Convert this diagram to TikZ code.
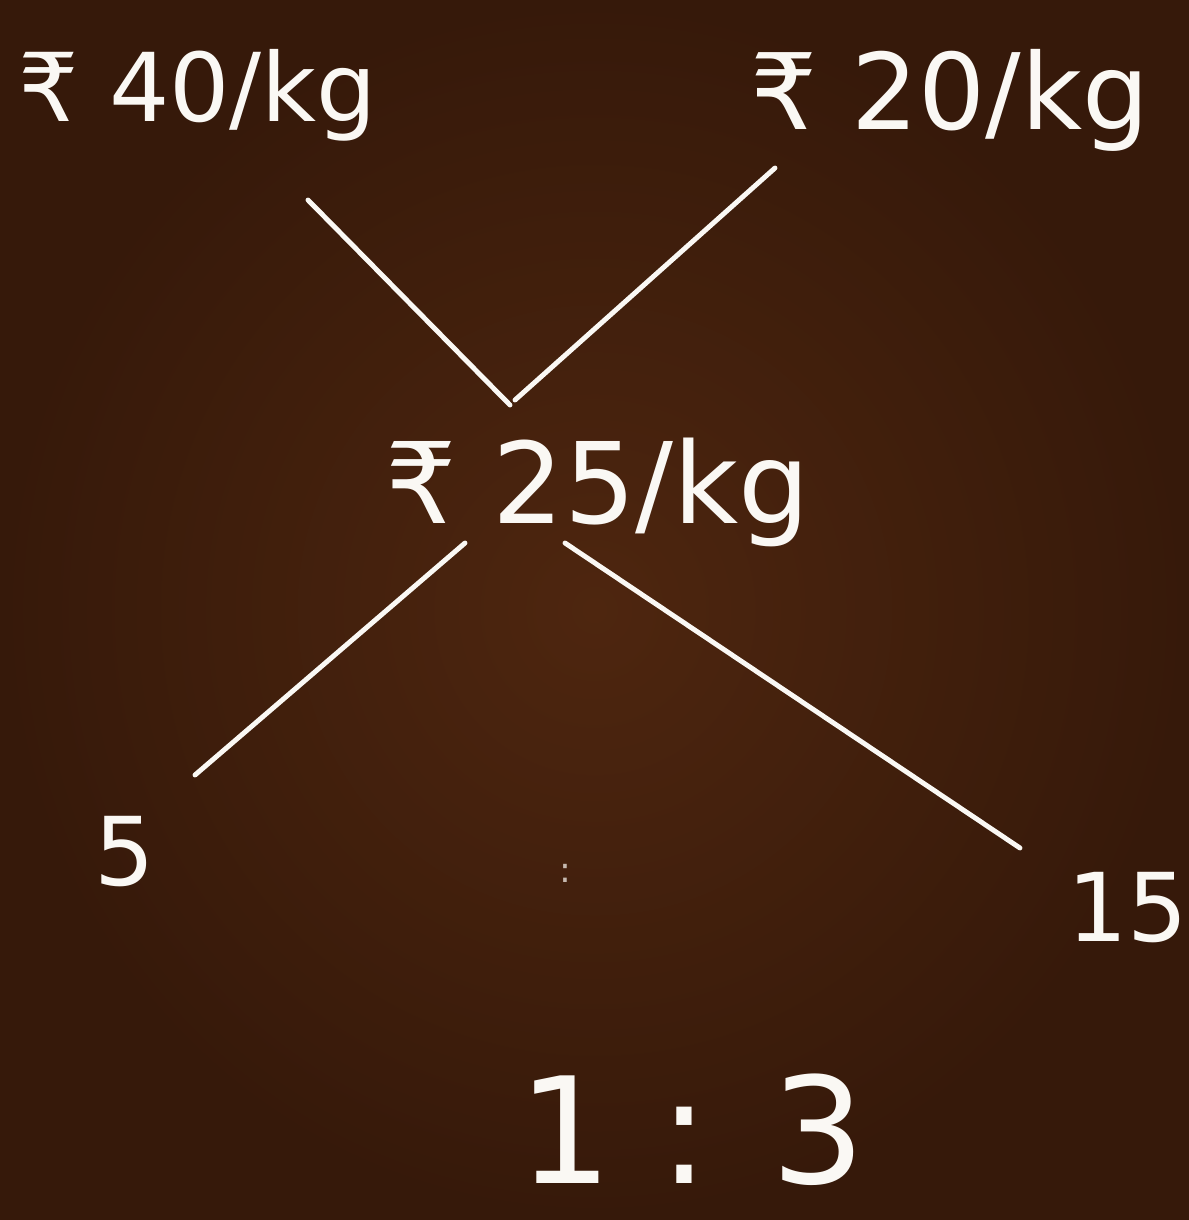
\documentclass[tikz,border=0pt]{standalone}
\usepackage{fontspec}
\setmainfont{DejaVu Sans}
\usepackage{tikz}

\definecolor{board}{RGB}{78,38,15}
\definecolor{boardedge}{RGB}{54,25,10}
\definecolor{chalk}{RGB}{250,248,244}

\begin{document}
\begin{tikzpicture}[x=0.01cm, y=-0.01cm, line width=1.4pt, chalk, line cap=round]
  % board
  \shade[inner color=board, outer color=boardedge] (0,0) rectangle (1189,1220);
  \useasboundingbox (0,0) rectangle (1189,1220);

  \tikzset{price/.style={text=chalk, inner sep=0pt, font=\fontsize{27}{32}\selectfont},
           part/.style={text=chalk, inner sep=0pt, font=\fontsize{27}{32}\selectfont}}

  \node[price] (dear) at (198,95) {₹ 40/kg};
  \node[price, font=\fontsize{30}{36}\selectfont] (cheap) at (950,100) {₹ 20/kg};
  \node[price, font=\fontsize{32}{38}\selectfont] (mean) at (598,492) {₹ 25/kg};
  \node[part] (lo) at (125,852) {5};
  \node[part] (hi) at (1128,908) {15};
  \node[part, font=\fontsize{42}{50}\selectfont] (ratio) at (692,1130) {1 : 3};
  \node[text=chalk!70!board, font=\fontsize{10}{12}\selectfont] (dots) at (565,873) {:};

  \coordinate (a1) at (308,200);
  \coordinate (a2) at (510,405);
  \coordinate (b1) at (775,168);
  \coordinate (b2) at (515,400);
  \coordinate (c1) at (465,543);
  \coordinate (c2) at (195,775);
  \coordinate (d1) at (565,543);
  \coordinate (d2) at (1020,848);

  \draw (a1) -- (a2);
  \draw (b1) -- (b2);
  \draw (c1) -- (c2);
  \draw (d1) -- (d2);
\end{tikzpicture}
\end{document}
